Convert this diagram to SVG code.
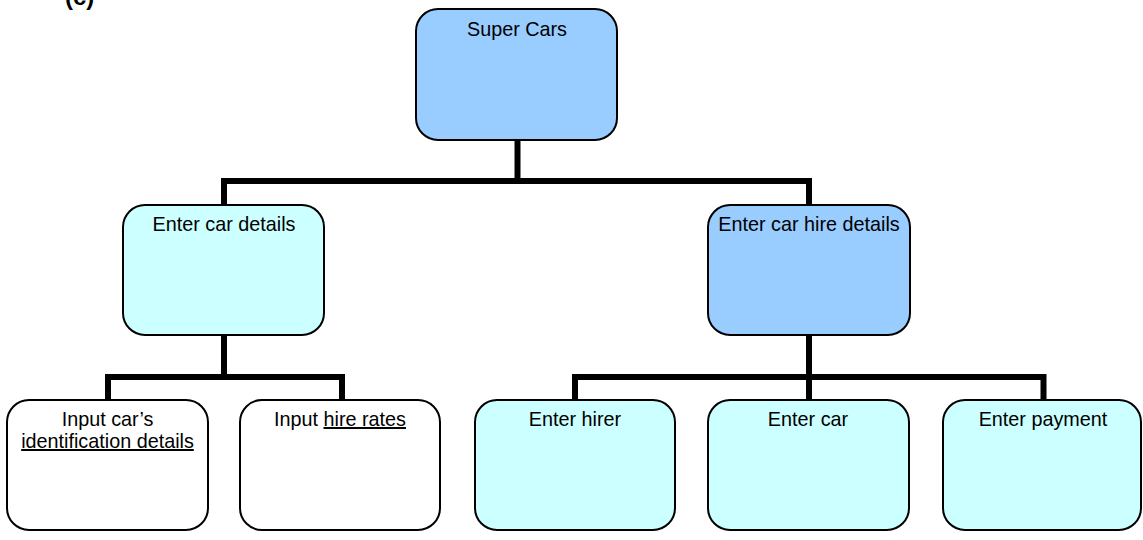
<svg xmlns="http://www.w3.org/2000/svg" width="1143" height="540" viewBox="0 0 1143 540">
<style>
.box{stroke:#000;stroke-width:2}
.blue{fill:#99CCFF}
.cyan{fill:#CCFFFF}
.white{fill:#FFFFFF}
.lbl{font-family:"Liberation Sans",Arial,sans-serif;font-size:19.8px;fill:#000;text-anchor:middle}
.u{text-decoration:underline}
.conn{fill:none;stroke:#000;stroke-width:6;stroke-linejoin:miter;stroke-linecap:butt}
</style>
<rect width="1143" height="540" fill="#fff"/>
<text x="65" y="5" font-family="Liberation Sans,Arial,sans-serif" font-size="24" font-weight="bold">(c)</text>
<g id="connectors">
<path class="conn" d="M517.5,140 V181"/>
<path class="conn" d="M224,205 V181 H809 V205"/>
<path class="conn" d="M224,335 V377"/>
<path class="conn" d="M108,400 V377 H342 V400"/>
<path class="conn" d="M809,335 V400"/>
<path class="conn" d="M575,400 V377 H1043.5 V400"/>
</g>
<g id="super-cars">
<rect class="box blue" x="416" y="9" width="201" height="131" rx="22"/>
<text class="lbl" x="517" y="36">Super Cars</text>
</g>
<g id="enter-car-details">
<rect class="box cyan" x="123" y="205" width="201" height="130" rx="22"/>
<text class="lbl" x="224" y="231">Enter car details</text>
</g>
<g id="enter-car-hire-details">
<rect class="box blue" x="708" y="205" width="202" height="130" rx="22"/>
<text class="lbl" x="809" y="231">Enter car hire details</text>
</g>
<g id="input-car-id">
<rect class="box white" x="7" y="400" width="201" height="130" rx="22"/>
<text class="lbl" x="107.5" y="426">Input car’s</text>
<text class="lbl u" x="107.5" y="448">identification details</text>
</g>
<g id="input-hire-rates">
<rect class="box white" x="240" y="400" width="200" height="130" rx="22"/>
<text class="lbl" x="340" y="426">Input <tspan class="u">hire rates</tspan></text>
</g>
<g id="enter-hirer">
<rect class="box cyan" x="475" y="400" width="200" height="130" rx="22"/>
<text class="lbl" x="575" y="426">Enter hirer</text>
</g>
<g id="enter-car">
<rect class="box cyan" x="708" y="400" width="201" height="130" rx="22"/>
<text class="lbl" x="808" y="426">Enter car</text>
</g>
<g id="enter-payment">
<rect class="box cyan" x="943" y="400" width="198" height="130" rx="22"/>
<text class="lbl" x="1043" y="426">Enter payment</text>
</g>
</svg>
